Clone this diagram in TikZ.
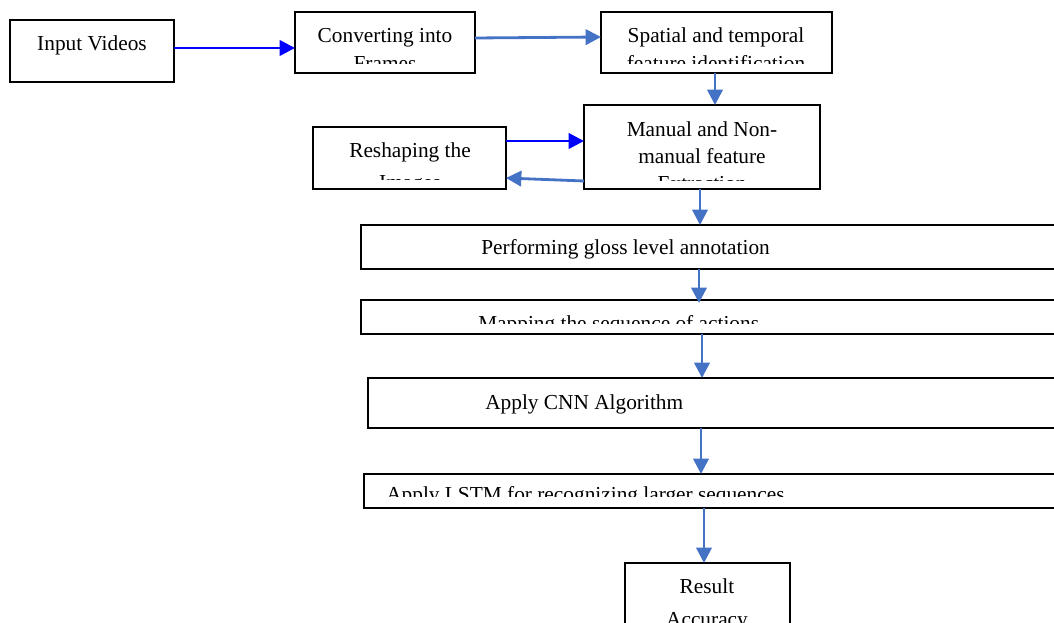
\documentclass[tikz,border=0pt]{standalone}
\usepackage{fontspec}
\setmainfont{Liberation Serif}
\usetikzlibrary{arrows.meta,fit}
\definecolor{arrblue}{RGB}{0,0,255}
\definecolor{steel}{RGB}{68,114,196}
\begin{document}
\begin{tikzpicture}[x=0.75pt,y=-0.75pt,
  box/.style={draw=black, line width=1.5pt, inner sep=0pt, outer sep=0pt},
  lbl/.style={inner sep=0pt, font=\fontsize{16}{19}\selectfont},
  conn/.style={line width=2.1pt, -{Triangle[length=11.5pt,width=11.5pt]}},
  bluec/.style={conn, draw=arrblue, fill=arrblue},
  steelc/.style={conn, draw=steel, fill=steel},
]
\useasboundingbox (0,0) rectangle (1054,623);
% boxes
\node[box, fit={(10,20) (174,82)}] (input) {};
\node[box, fit={(295,12) (475,73)}] (conv) {};
\node[box, fit={(601,12) (832,73)}] (spat) {};
\node[box, fit={(584,105) (820,189)}] (man) {};
\node[box, fit={(313,127) (506,189)}] (resh) {};
\node[box, fit={(361,225) (1070,269)}] (perf) {};
\node[box, fit={(361,300) (1070,334)}] (mapp) {};
\node[box, fit={(368,378) (1070,428)}] (cnn) {};
\node[box, fit={(364,474) (1070,508)}] (lstm) {};
\node[box, fit={(625,563) (790,650)}] (res) {};
% texts
\node[lbl, anchor=base] (tinput) at (92,51) {Input Videos};
\begin{scope}
  \clip (296,13) rectangle (474,64);
  \node[lbl, anchor=base] (tconv1) at (385,43) {Converting into};
  \node[lbl, anchor=base] (tconv2) at (385,71) {Frames};
\end{scope}
\begin{scope}
  \clip (602,13) rectangle (831,64);
  \node[lbl, anchor=base] (tspat1) at (716,43) {Spatial and temporal};
  \node[lbl, anchor=base] (tspat2) at (716,71) {feature identification};
\end{scope}
\begin{scope}
  \clip (585,106) rectangle (819,181);
  \node[lbl, anchor=base] (tman1) at (702,137) {Manual and Non-};
  \node[lbl, anchor=base] (tman2) at (702,164) {manual feature};
  \node[lbl, anchor=base] (tman3) at (702,191) {Extraction};
\end{scope}
\begin{scope}
  \clip (314,128) rectangle (505,180);
  \node[lbl, anchor=base] (tresh1) at (410,158) {Reshaping the};
  \node[lbl, anchor=base] (tresh2) at (410,190) {Images};
\end{scope}
\node[lbl, anchor=base west] (tperf) at (481,255) {Performing gloss level annotation};
\begin{scope}
  \clip (362,301) rectangle (1060,324);
  \node[lbl, anchor=base west] (tmapp) at (478,331) {Mapping the sequence of actions};
\end{scope}
\node[lbl, anchor=base west] (tcnn) at (485,410) {Apply CNN Algorithm};
\begin{scope}
  \clip (365,475) rectangle (1060,497);
  \node[lbl, anchor=base west] (tlstm) at (386,502) {Apply LSTM for recognizing larger sequences};
\end{scope}
\node[lbl, anchor=base] (tres1) at (707,594) {Result};
\node[lbl, anchor=base] (tres2) at (707,626) {Accuracy};
% connectors
\draw[bluec] (input.east |- 0,48) -- (conv.west |- 0,48);
\draw[steelc] (conv.east |- 0,38) -- (spat.west |- 0,37);
\draw[steelc] (spat.south -| 715,0) -- (man.north -| 715,0);
\draw[bluec] (resh.east |- 0,141) -- (man.west |- 0,141);
\draw[steelc] (man.west |- 0,181) -- (resh.east |- 0,178);
\draw[steelc] (man.south -| 700,0) -- (perf.north -| 700,0);
\draw[steelc] (perf.south -| 699,0) -- ([yshift=-2.2pt]mapp.north -| 699,0);
\draw[steelc] (mapp.south -| 702,0) -- (cnn.north -| 702,0);
\draw[steelc] (cnn.south -| 701,0) -- (lstm.north -| 701,0);
\draw[steelc] (lstm.south -| 704,0) -- (res.north -| 704,0);
\end{tikzpicture}
\end{document}
